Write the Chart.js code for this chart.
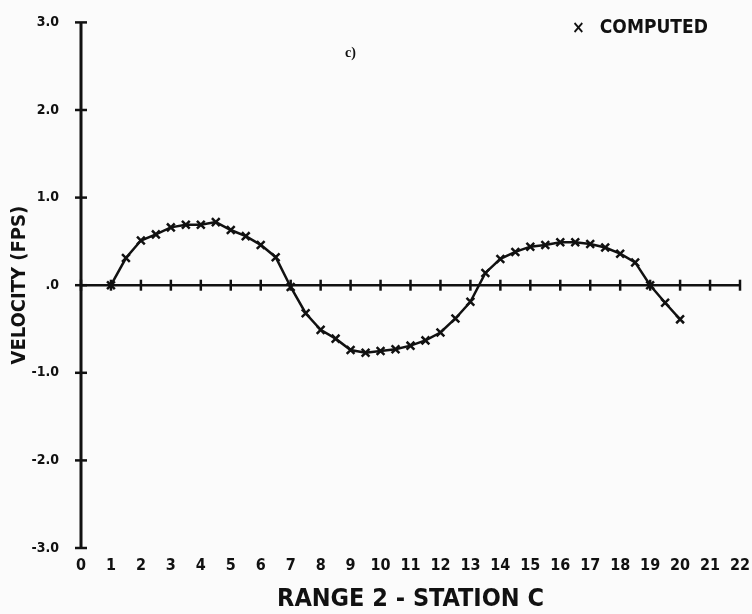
<!DOCTYPE html>
<html>
<head>
<meta charset="utf-8">
<script src="https://cdn.jsdelivr.net/npm/chart.js@4/dist/chart.umd.min.js"></script>
<style>
  html, body { margin: 0; padding: 0; background: #fbfbfb; }
  #wrap { position: relative; width: 752px; height: 614px; }
  #note { position: absolute; left: 345px; top: 45px; font: bold 14px 'Liberation Serif', serif; color: #111; }
  #legend { position: absolute; left: 572px; top: 15px; font: bold 19px 'DejaVu Sans Condensed', 'DejaVu Sans', sans-serif; color: #111; white-space: nowrap; }
  #legend .mark { font-size: 17px; margin-right: 15px; }
</style>
</head>
<body>
<div id="wrap">
  <canvas id="c"></canvas>
  <div id="note">c)</div>
  <div id="legend"><span class="mark">×</span>COMPUTED</div>
</div>
<script>
// stations along range 2 (x) and computed velocity (y, fps)
var stations = [1, 1.5, 2, 2.5, 3, 3.5, 4, 4.5, 5, 5.5, 6, 6.5, 7, 7.5, 8, 8.5, 9, 9.5, 10, 10.5,
                11, 11.5, 12, 12.5, 13, 13.5, 14, 14.5, 15, 15.5, 16, 16.5, 17, 17.5, 18, 18.5, 19, 19.5, 20];
var velocity = [0.0, 0.31, 0.51, 0.58, 0.66, 0.69, 0.69, 0.72, 0.63, 0.56, 0.46, 0.32, -0.02, -0.32, -0.51, -0.61, -0.74, -0.77, -0.75, -0.73,
                -0.69, -0.63, -0.54, -0.38, -0.19, 0.14, 0.30, 0.38, 0.44, 0.46, 0.49, 0.49, 0.47, 0.43, 0.36, 0.26, 0.0, -0.20, -0.39];

// axis ticks
var xTicks = [0, 1, 2, 3, 4, 5, 6, 7, 8, 9, 10, 11, 12, 13, 14, 15, 16, 17, 18, 19, 20, 21, 22];
var yTicks = [-3, -2, -1, 0, 1, 2, 3];
var yTickLabels = ['-3.0', '-2.0', '-1.0', '.0', '1.0', '2.0', '3.0'];

var INK = '#111';
var FONT = "'DejaVu Sans Condensed', 'DejaVu Sans', sans-serif";

new Chart(document.getElementById('c').getContext('2d'), {
  type: 'scatter',
  data: {
    datasets: [
      {
        label: 'COMPUTED',
        data: stations.map(function (x, i) { return { x: x, y: velocity[i] }; }),
        showLine: true, borderColor: INK, backgroundColor: INK, borderWidth: 2.5,
        pointStyle: 'crossRot', pointRadius: 5.5, pointBorderWidth: 2.5, tension: 0
      },
      {
        label: 'zero',
        data: xTicks.map(function (x) { return { x: x, y: 0 }; }),
        showLine: true, borderColor: INK, borderWidth: 2.5,
        pointStyle: 'line', rotation: 90, pointRadius: 5.5, pointBorderWidth: 2.5, clip: false
      },
      {
        label: 'yaxis',
        data: yTicks.map(function (y) { return { x: 0, y: y }; }),
        showLine: true, borderColor: INK, borderWidth: 3,
        pointStyle: 'line', rotation: 0, pointRadius: 6, pointBorderWidth: 2.5, clip: false
      }
    ]
  },
  options: {
    responsive: true, maintainAspectRatio: false, animation: false,
    layout: { padding: { top: 11, right: 12, left: 0, bottom: 0 } },
    plugins: {
      tooltip: { enabled: false },
      legend: { display: false }
    },
    scales: {
      x: {
        type: 'linear', min: 0, max: 22,
        grid: { display: false }, border: { display: false },
        afterFit: function (s) { s.height = 66; },
        ticks: {
          stepSize: 1, autoSkip: false, maxRotation: 0, padding: 0, color: INK,
          font: { family: FONT, size: 16, weight: 'bold' }
        },
        title: {
          display: true, text: 'RANGE 2 - STATION C', color: INK, padding: { top: 10, bottom: 0 },
          font: { family: FONT, size: 25, weight: 'bold' }
        }
      },
      y: {
        min: -3, max: 3,
        grid: { display: false }, border: { display: false },
        afterFit: function (s) { s.width = 81; },
        ticks: {
          stepSize: 1, padding: 14, color: INK,
          font: { family: FONT, size: 14, weight: 'bold' },
          callback: function (v) { var i = yTicks.indexOf(v); return i < 0 ? '' : yTickLabels[i]; }
        },
        title: {
          display: true, text: 'VELOCITY (FPS)', color: INK, padding: { top: 8, bottom: 0 },
          font: { family: FONT, size: 20, weight: 'bold' }
        }
      }
    }
  }
});
</script>
</body>
</html>
